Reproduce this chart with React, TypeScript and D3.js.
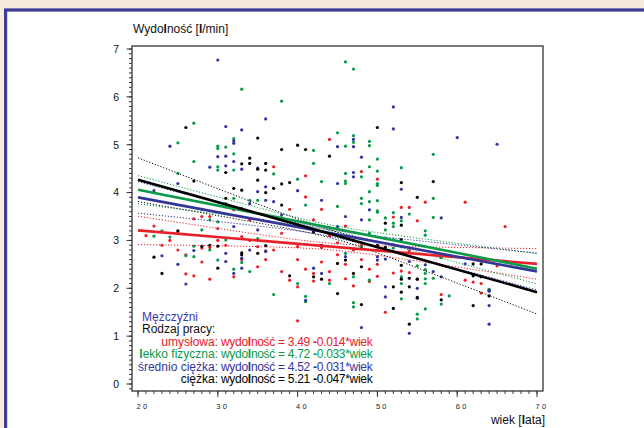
import React from "react";
import * as d3 from "d3";

// ---- data ----
const groups = ["umysłowa", "lekko fizyczna", "średnio ciężka", "ciężka"];
const groupColors = ["#e8202a", "#0a9a48", "#34349a", "#000000"];
const intercepts = [3.49, 4.72, 4.52, 5.21];
const slopes = [-0.014, -0.033, -0.031, -0.047];
const meanAge = [44, 44, 43, 45];
const ciMin = [0.07, 0.06, 0.07, 0.08];
const ciSlopeSe = [0.012, 0.012, 0.014, 0.018];

const xTicks = [20, 30, 40, 50, 60, 70];
const yTicks = [0, 1, 2, 3, 4, 5, 6, 7];

const redPts: [number, number][] = [
  [25, 3.18], [26, 2.7], [26, 2.3], [27, 2.26], [28, 3.5], [28, 2.84], [29, 3.5], [29, 2.19],
  [30, 3.25], [31, 3.7], [32, 3.64], [32, 2.24], [33, 3.08], [34, 3.43], [35, 2.87], [36, 2.78],
  [37, 4.54], [38, 3.43], [38, 3.15], [39, 3.65], [39, 2.17], [41, 4.35], [40, 2.87], [40, 2.03],
  [41, 3.91], [42, 3.43], [42, 2.31], [43, 3.65], [44, 5.11], [44, 2.17], [48, 4.44], [49, 2.14],
  [50, 4.28], [56, 3.8], [61, 3.8], [53, 3.69], [54, 3.69], [52, 3.49], [55, 3.41], [66, 3.29],
  [50, 2.8], [50, 2.5], [54, 2.78], [53, 2.36], [54, 2.33], [52, 2.32], [55, 2.19], [65, 2.47],
  [61, 2.17], [62, 2.13], [63, 2.1], [63, 1.9], [58, 1.87], [51, 1.5], [40, 1.32],
  [40, 2.6], [41, 2.4], [42, 2.15], [43, 2.55], [44, 2.35], [45, 2.95], [45, 2.7], [46, 2.5],
  [46, 2.2], [47, 2.8], [47, 2.05], [48, 2.6], [48, 2.9], [49, 2.4], [50, 2.25], [44, 3.1],
  [43, 2.85], [46, 3.3], [47, 3.0], [36, 2.6], [35, 2.45], [34, 3.0], [33, 2.6], [31, 2.9],
  [30, 3.0], [29, 2.85], [28, 2.55], [24, 3.0], [23, 2.9], [22, 3.3], [21, 3.1], [27, 3.45],
  [25, 2.8], [38, 2.35], [37, 2.8],
];

const greenPts: [number, number][] = [
  [33, 6.16], [38, 5.91], [46, 6.73], [47, 6.58], [27, 5.45], [32, 5.13],
  [22, 3.09], [23, 3.2], [24, 3.07], [25, 5.04], [25, 4.4], [26, 2.68], [27, 4.65], [27, 2.88],
  [27, 2.66], [28, 3.22], [29, 2.8], [29, 3.43], [30, 4.97], [30, 4.92], [30, 4.54], [30, 4.47],
  [30, 3.39], [30, 2.59], [31, 4.95], [31, 3.77], [31, 3.01], [32, 4.81], [32, 4.47], [32, 3.88],
  [32, 2.4], [33, 3.67], [33, 2.54], [34, 3.84], [34, 2.35], [35, 3.84], [35, 3.04], [37, 4.39],
  [37, 1.87], [40, 4.28], [40, 2.1], [41, 3.74], [41, 1.83], [41, 1.72], [42, 4.88], [42, 4.61],
  [43, 4.23], [44, 2.1], [45, 5.25], [45, 3.71], [46, 4.97], [46, 4.4], [46, 4.24], [46, 4.19],
  [46, 2.73], [47, 5.19], [47, 5.05], [47, 2.24], [47, 1.7], [48, 4.33], [48, 3.88], [48, 3.77],
  [48, 2.87], [49, 5.07], [49, 4.98], [49, 4.54], [49, 4.02], [49, 3.81], [49, 3.43], [49, 2.17],
  [57, 4.8], [50, 4.7], [50, 4.45], [50, 4.19], [50, 4.15], [53, 4.52], [57, 3.88], [50, 3.83],
  [50, 3.62], [50, 3.59], [52, 3.58], [51, 3.47], [52, 3.36], [52, 3.29], [53, 3.41], [54, 3.55],
  [57, 3.48], [56, 3.2], [56, 3.11], [51, 3.22], [49, 3.15], [52, 3.02], [52, 2.91], [52, 2.84],
  [53, 2.87], [55, 2.47], [53, 2.24], [53, 2.1], [56, 2.39], [56, 2.31], [56, 2.2], [56, 2.1],
  [58, 2.64], [57, 2.21], [64, 1.98], [59, 1.84], [58, 1.67], [56, 1.57], [55, 1.46], [55, 1.36],
  [53, 1.78], [47, 1.61],
];

const bluePts: [number, number][] = [
  [30, 6.77], [36, 5.54], [31, 5.38], [33, 5.31],
  [22, 4.04], [23, 2.68], [24, 4.97], [25, 4.19], [25, 2.5], [26, 2.09], [27, 2.79], [28, 3.65],
  [29, 4.53], [30, 4.75], [31, 4.76], [31, 4.56], [31, 2.73], [31, 2.56], [32, 5.08], [32, 5.03],
  [32, 4.65], [32, 3.29], [32, 2.31], [33, 4.49], [33, 2.63], [33, 2.42], [34, 3.77], [34, 2.8],
  [35, 4.51], [35, 4.02], [35, 3.22], [36, 4.12], [36, 3.84], [36, 2.77], [37, 3.81], [38, 3.53],
  [40, 4.04], [42, 2.42], [43, 3.84], [43, 2.31], [45, 4.96], [45, 4.19], [45, 3.29], [46, 3.5],
  [46, 2.66], [47, 5.11], [47, 4.96], [47, 4.42], [47, 4.33], [48, 4.74], [48, 3.43], [49, 3.64],
  [52, 5.33], [60, 5.15], [65, 5.01], [53, 4.07], [53, 3.48], [58, 3.47], [51, 3.04], [50, 2.66],
  [50, 2.59], [51, 2.61], [54, 2.56], [56, 2.49], [57, 2.35], [58, 2.24], [61, 2.51], [64, 1.96],
  [64, 1.94], [55, 2.0], [55, 1.79], [64, 1.64], [51, 2.03], [51, 1.82], [41, 1.75], [48, 1.18],
  [54, 1.06], [52, 5.79], [64, 1.25],
];

const blackPts: [number, number][] = [
  [26, 5.36], [35, 5.14],
  [22, 2.65], [23, 2.31], [25, 3.2], [27, 4.24], [28, 2.88], [29, 2.9], [30, 2.88], [30, 2.42],
  [31, 4.42], [31, 3.88], [32, 4.09], [33, 4.6], [33, 4.05], [33, 2.74], [33, 2.7], [34, 4.72],
  [34, 4.61], [35, 4.49], [35, 4.26], [35, 2.73], [36, 4.61], [36, 4.47], [36, 4.0], [36, 2.89],
  [37, 4.09], [38, 4.9], [38, 4.18], [38, 3.74], [39, 4.21], [39, 2.26], [40, 4.99], [41, 4.9],
  [42, 3.18], [42, 2.24], [43, 2.9], [43, 2.19], [44, 4.76], [45, 2.52], [45, 1.89], [46, 2.59],
  [47, 2.31], [48, 2.45], [48, 1.66], [50, 5.36],
  [53, 4.21], [57, 4.23], [55, 3.9], [51, 3.36], [53, 3.32], [53, 3.02], [50, 2.9], [51, 2.86],
  [53, 2.48], [53, 2.19], [54, 2.21], [55, 2.19], [62, 2.51], [63, 2.51], [62, 2.26], [63, 2.24],
  [54, 2.03], [55, 1.81], [58, 1.76], [62, 1.64], [52, 1.58], [52, 2.03], [53, 1.92], [54, 1.25],
  [64, 1.84],
];

const allPts = [redPts, greenPts, bluePts, blackPts];

const W = 644;
const H = 428;

const x = d3.scaleLinear().domain([19.248, 70.752]).range([132, 543]);
const y = d3.scaleLinear().domain([-0.146, 7.063]).range([391, 46]);

const FONT = "'Liberation Sans', Arial, Helvetica, sans-serif";

function B({ children }: { children: React.ReactNode }) {
  return <tspan fontWeight="bold">{children}</tspan>;
}

export default function App() {
  const ages = d3.range(20, 70.01, 0.5);
  const line = d3
    .line<[number, number]>()
    .x((d) => x(d[0]))
    .y((d) => y(d[1]));

  const yMinor = d3.range(-1, 71).map((i) => i / 10);
  const xMinor = d3.range(20, 71);

  const legendX = 218;
  const legendBase = 320.5;
  const step = 12.5;

  return (
    <svg
      width={W}
      height={H}
      style={{ position: "absolute", left: 0, top: 0, display: "block" }}
      fontFamily={FONT}
    >
      <rect x={0} y={0} width={W} height={H} fill="#f7ebdb" />
      <rect x={5.6} y={10} width={700} height={500} fill="#ffffff" stroke="#3b3b9b" strokeWidth={3.2} />

      {/* points */}
      {allPts.map((pts, gi) =>
        pts.map((p, i) => (
          <circle key={`p${gi}-${i}`} cx={x(p[0])} cy={y(p[1])} r={1.6} fill={groupColors[gi]} />
        ))
      )}

      {/* confidence bands */}
      {groups.map((g, gi) =>
        [-1, 1].map((s) => {
          const pts: [number, number][] = ages.map((a) => {
            const h = Math.sqrt(ciMin[gi] ** 2 + (ciSlopeSe[gi] * (a - meanAge[gi])) ** 2);
            return [a, intercepts[gi] + slopes[gi] * a + s * h];
          });
          return (
            <path
              key={`ci${gi}${s}`}
              d={line(pts) || ""}
              fill="none"
              stroke={groupColors[gi]}
              strokeWidth={1}
              strokeDasharray="1.2,1.8"
            />
          );
        })
      )}

      {/* regression lines */}
      {groups.map((g, gi) => (
        <path
          key={`rl${gi}`}
          d={line([20, 70].map((a) => [a, intercepts[gi] + slopes[gi] * a]) as [number, number][]) || ""}
          fill="none"
          stroke={groupColors[gi]}
          strokeWidth={2.6}
        />
      ))}

      {/* plot frame */}
      <rect x={132} y={46} width={411} height={345} fill="none" stroke="#333" strokeWidth={1.3} />

      {/* y ticks */}
      {yMinor.map((v) => (
        <line key={`ym${v}`} x1={129} x2={132} y1={y(v)} y2={y(v)} stroke="#333" strokeWidth={1} />
      ))}
      {yTicks.map((v) => (
        <g key={`yt${v}`}>
          <line x1={126.5} x2={132} y1={y(v)} y2={y(v)} stroke="#333" strokeWidth={1} />
          <text x={119} y={y(v) + 3.8} fontSize={10.5} textAnchor="end" fill="#111">
            {v}
          </text>
        </g>
      ))}

      {/* x ticks */}
      {xMinor.map((a) => (
        <line key={`xm${a}`} x1={x(a)} x2={x(a)} y1={391} y2={394} stroke="#333" strokeWidth={1} />
      ))}
      {xTicks.map((a) => (
        <g key={`xt${a}`}>
          <line x1={x(a)} x2={x(a)} y1={391} y2={397} stroke="#333" strokeWidth={1} />
          <text x={x(a) - 1.5} y={408.5} fontSize={7.5} letterSpacing={2.3} fill="#222">
            {a}
          </text>
        </g>
      ))}

      {/* axis titles */}
      <text x={133} y={33} fontSize={12} fill="#111">
        Wydo<B>l</B>ność [<B>l</B>/min]
      </text>
      <text x={545} y={423.5} fontSize={12} textAnchor="end" fill="#111">
        wiek [<B>l</B>ata]
      </text>

      {/* legend */}
      <text x={142} y={legendBase} fontSize={12} fill="#3b3bb0">
        Mężczyźni
      </text>
      <text x={142} y={legendBase + step} fontSize={12} fill="#111">
        Rodzaj pracy:
      </text>
      {groups.map((g, gi) => {
        const yy = legendBase + step * (gi + 2);
        const label =
          g === "lekko fizyczna" ? (
            <>
              <B>l</B>ekko fizyczna:
            </>
          ) : (
            `${g}:`
          );
        return (
          <g key={`lg${gi}`} fill={groupColors[gi]} fontSize={12}>
            <text x={legendX} y={yy} textAnchor="end">
              {label}
            </text>
            <text x={legendX + 3} y={yy} letterSpacing={-0.3}>
              wydo<B>l</B>ność = {intercepts[gi].toFixed(2)} <B>-</B>
              {Math.abs(slopes[gi]).toFixed(3)}*wiek
            </text>
          </g>
        );
      })}
    </svg>
  );
}
